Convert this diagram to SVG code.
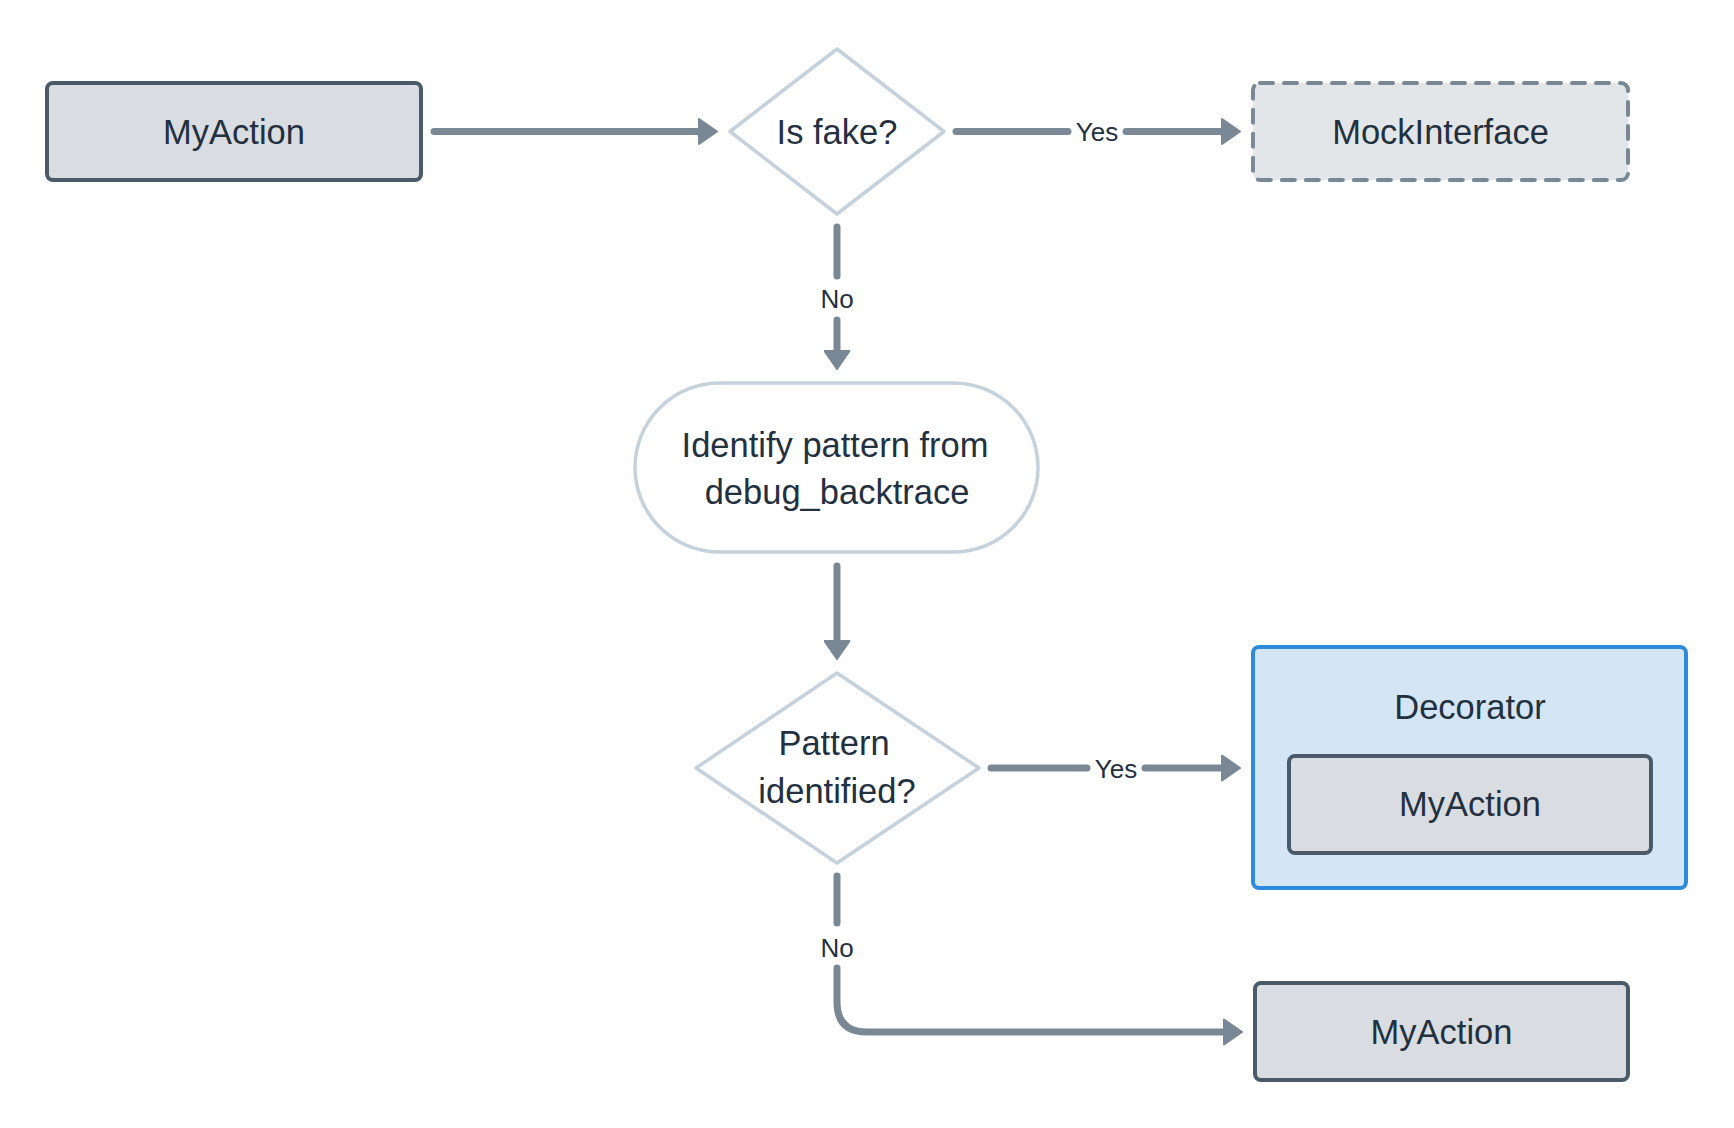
<svg xmlns="http://www.w3.org/2000/svg" width="1734" height="1128" viewBox="0 0 1734 1128">
<defs>
<style>
.box{fill:#d9dde1;stroke:#4a5a69;stroke-width:4}
.mock{fill:#e3e6e9;stroke:#7a8896;stroke-width:4;stroke-dasharray:13 11;stroke-linecap:round}
.dec{fill:#d4e6f6;stroke:#2e8bdb;stroke-width:4}
.light{fill:#ffffff;stroke:#c5d1db;stroke-width:3.5;stroke-linejoin:round}
.t{font-family:"Liberation Sans",Arial,sans-serif;font-size:34.5px;fill:#23303f;text-anchor:middle}
.lbl{font-family:"Liberation Sans",Arial,sans-serif;font-size:26px;fill:#23303f;text-anchor:middle}
.e{fill:none;stroke:#7a8896;stroke-width:7;stroke-linecap:round;stroke-linejoin:round}
.ah{fill:#7a8896;stroke:#7a8896;stroke-width:2;stroke-linejoin:round}
</style>
<marker id="arr" markerUnits="userSpaceOnUse" viewBox="-1 -1 20 27" refX="0" refY="12.5" markerWidth="20" markerHeight="27" orient="auto">
<path class="ah" d="M0,0 L18,12.5 L0,25 Z"/>
</marker>
</defs>
<rect width="1734" height="1128" fill="#ffffff"/>

<g id="connectors">
<path class="e" d="M434,131.5 L699,131.5" marker-end="url(#arr)"/>
<path class="e" d="M956,131.5 L1068,131.5"/>
<path class="e" d="M1126,131.5 L1222,131.5" marker-end="url(#arr)"/>
<text class="lbl" x="1097" y="141">Yes</text>
<path class="e" d="M837,227 L837,276"/>
<path class="e" d="M837,320 L837,351" marker-end="url(#arr)"/>
<text class="lbl" x="837" y="307.5">No</text>
<path class="e" d="M837,566 L837,641" marker-end="url(#arr)"/>
<path class="e" d="M991,768 L1087,768"/>
<path class="e" d="M1145,768 L1222,768" marker-end="url(#arr)"/>
<text class="lbl" x="1116" y="777.5">Yes</text>
<path class="e" d="M837,876 L837,923"/>
<path class="e" d="M837,968 L837,1002 Q837,1032 867,1032 L1224,1032" marker-end="url(#arr)"/>
<text class="lbl" x="837" y="956.5">No</text>
</g>

<g id="myaction-start">
<rect class="box" x="47" y="83" width="374" height="97" rx="6"/>
<text class="t" x="234" y="144">MyAction</text>
</g>

<g id="is-fake">
<polygon class="light" points="837,49 944,131.5 837,214 730,131.5"/>
<text class="t" x="837" y="144">Is fake?</text>
</g>

<g id="mock-interface">
<rect class="mock" x="1253" y="83" width="375" height="97" rx="7"/>
<text class="t" x="1440.5" y="144">MockInterface</text>
</g>

<g id="identify-pattern">
<rect class="light" x="635" y="383" width="403" height="169" rx="84.5"/>
<text class="t" x="835" y="457">Identify pattern from</text>
<text class="t" x="837" y="504">debug_backtrace</text>
</g>

<g id="pattern-identified">
<polygon class="light" points="837,673 979,768 837,863 696,768"/>
<text class="t" x="834" y="755">Pattern</text>
<text class="t" x="837" y="803">identified?</text>
</g>

<g id="decorator">
<rect class="dec" x="1253" y="647" width="433" height="241" rx="6"/>
<text class="t" x="1470" y="719">Decorator</text>
<g id="myaction-inner">
<rect class="box" x="1289" y="756" width="362" height="97" rx="6"/>
<text class="t" x="1470" y="816">MyAction</text>
</g>
</g>

<g id="myaction-end">
<rect class="box" x="1255" y="983" width="373" height="97" rx="6"/>
<text class="t" x="1441.5" y="1044">MyAction</text>
</g>
</svg>
